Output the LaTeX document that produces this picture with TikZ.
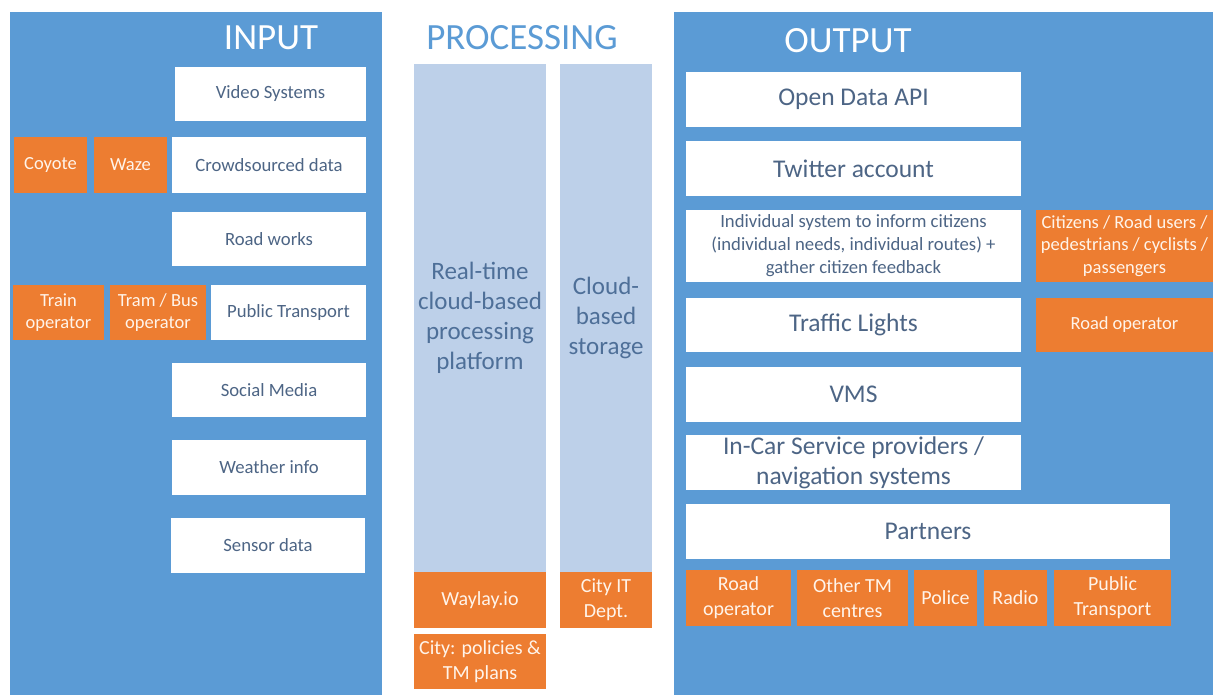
\documentclass[tikz,border=0pt]{standalone}
\usepackage{fontspec}
\setmainfont{Carlito}
\definecolor{panelblue}{HTML}{5B9BD5}
\definecolor{colblue}{HTML}{BDD0E9}
\definecolor{boxorange}{HTML}{ED7D31}
\definecolor{slatetext}{HTML}{4D6585}
\definecolor{coltext}{HTML}{4E6F98}
\definecolor{creamtext}{HTML}{FFF4EA}
\tikzset{
  panel/.style={fill=panelblue, draw=none, inner sep=0pt, anchor=center},
  title/.style={text=white, font=\fontsize{37}{42}\selectfont, inner sep=0pt},
  wbox/.style={fill=white, draw=none, inner sep=0pt, align=center, text=slatetext,
    font=\fontsize{18.7}{23}\selectfont},
  wbig/.style={wbox, font=\fontsize{25.5}{30}\selectfont},
  obox/.style={fill=boxorange, draw=none, inner sep=0pt, align=center, text=creamtext,
    font=\fontsize{18.5}{22.5}\selectfont},
  obig/.style={obox, font=\fontsize{20}{25}\selectfont},
  colbox/.style={fill=colblue, draw=none, inner sep=0pt, align=center, text=coltext,
    font=\fontsize{25}{29.8}\selectfont},
  sz/.style 2 args={minimum width=#1pt, minimum height=#2pt},
}
\begin{document}
\begin{tikzpicture}[x=1pt, y=-1pt]
\useasboundingbox (0,0) rectangle (1213,695);

% ---------------- INPUT ----------------
\node[panel, sz={372}{683}] (inpanel) at (196,353.5) {};
\node[title] (intitle) at (271,38) {INPUT};
\node[wbox, sz={191}{54}] (video) at (270.5,94) {Video Systems};
\node[obox, sz={73}{56}] (coyote) at (50.5,165) {Coyote};
\node[obox, sz={73}{56}] (waze) at (130.5,165) {Waze};
\node[wbox, sz={194}{56}] (crowd) at (269,165) {Crowdsourced data};
\node[wbox, sz={194}{54}] (roadworks) at (269,239) {Road works};
\node[obox, sz={91}{55}] (train) at (58.5,312.5) {Train\\operator};
\node[obox, sz={96}{55}] (tram) at (158,312.5) {Tram / Bus\\operator};
\node[wbox, sz={155}{55}] (pubin) at (288.5,312.5) {Public Transport};
\node[wbox, sz={194}{54}] (social) at (269,390) {Social Media};
\node[wbox, sz={194}{55}] (weather) at (269,467.5) {Weather info};
\node[wbox, sz={194}{55}] (sensor) at (268,545.5) {Sensor data};

% ---------------- PROCESSING ----------------
\node[title, text=panelblue] (proctitle) at (522,38) {PROCESSING};
\node[colbox, sz={132}{508}] (platform) at (480,318) {Real-time\\cloud-based\\processing\\platform};
\node[colbox, sz={92}{508}] (storage) at (606,318) {Cloud-\\based\\storage};
\node[obig, sz={132}{56}] (waylay) at (480,600) {Waylay.io};
\node[obig, sz={92}{56}] (cityit) at (606,600) {City IT\\Dept.};
\node[obig, sz={132}{55}] (policies) at (480,661.5) {City: policies \&\\TM plans};

% ---------------- OUTPUT ----------------
\node[panel, sz={539}{683}] (outpanel) at (943.5,353.5) {};
\node[title] (outtitle) at (848,41) {OUTPUT};
\node[wbig, sz={335}{55}] (opendata) at (853.5,99.5) {Open Data API};
\node[wbig, sz={335}{55}] (twitter) at (853.5,168.5) {Twitter account};
\node[wbox, sz={335}{72}] (individual) at (853.5,246)
  {Individual system to inform citizens\\(individual needs, individual routes) +\\gather citizen feedback};
\node[obox, sz={177}{72}] (citizens) at (1124.5,246)
  {Citizens / Road users /\\pedestrians / cyclists /\\passengers};
\node[wbig, sz={335}{54}] (lights) at (853.5,325) {Traffic Lights};
\node[obox, sz={177}{54}] (roadopr) at (1124.5,325) {Road operator};
\node[wbig, sz={335}{55}] (vms) at (853.5,394.5) {VMS};
\node[wbig, sz={335}{55}] (incar) at (853.5,462.5) {In-Car Service providers /\\navigation systems};
\node[wbig, sz={484}{55}] (partners) at (928,531.5) {Partners};
\node[obig, sz={105}{56}] (roadopb) at (738.5,598) {Road\\operator};
\node[obig, sz={111}{56}] (othertm) at (852.5,598) {Other TM\\centres};
\node[obig, sz={63}{56}] (police) at (945.5,598) {Police};
\node[obig, sz={63}{56}] (radio) at (1015.5,598) {Radio};
\node[obig, sz={117}{56}] (pubout) at (1112.5,598) {Public\\Transport};
\end{tikzpicture}
\end{document}
